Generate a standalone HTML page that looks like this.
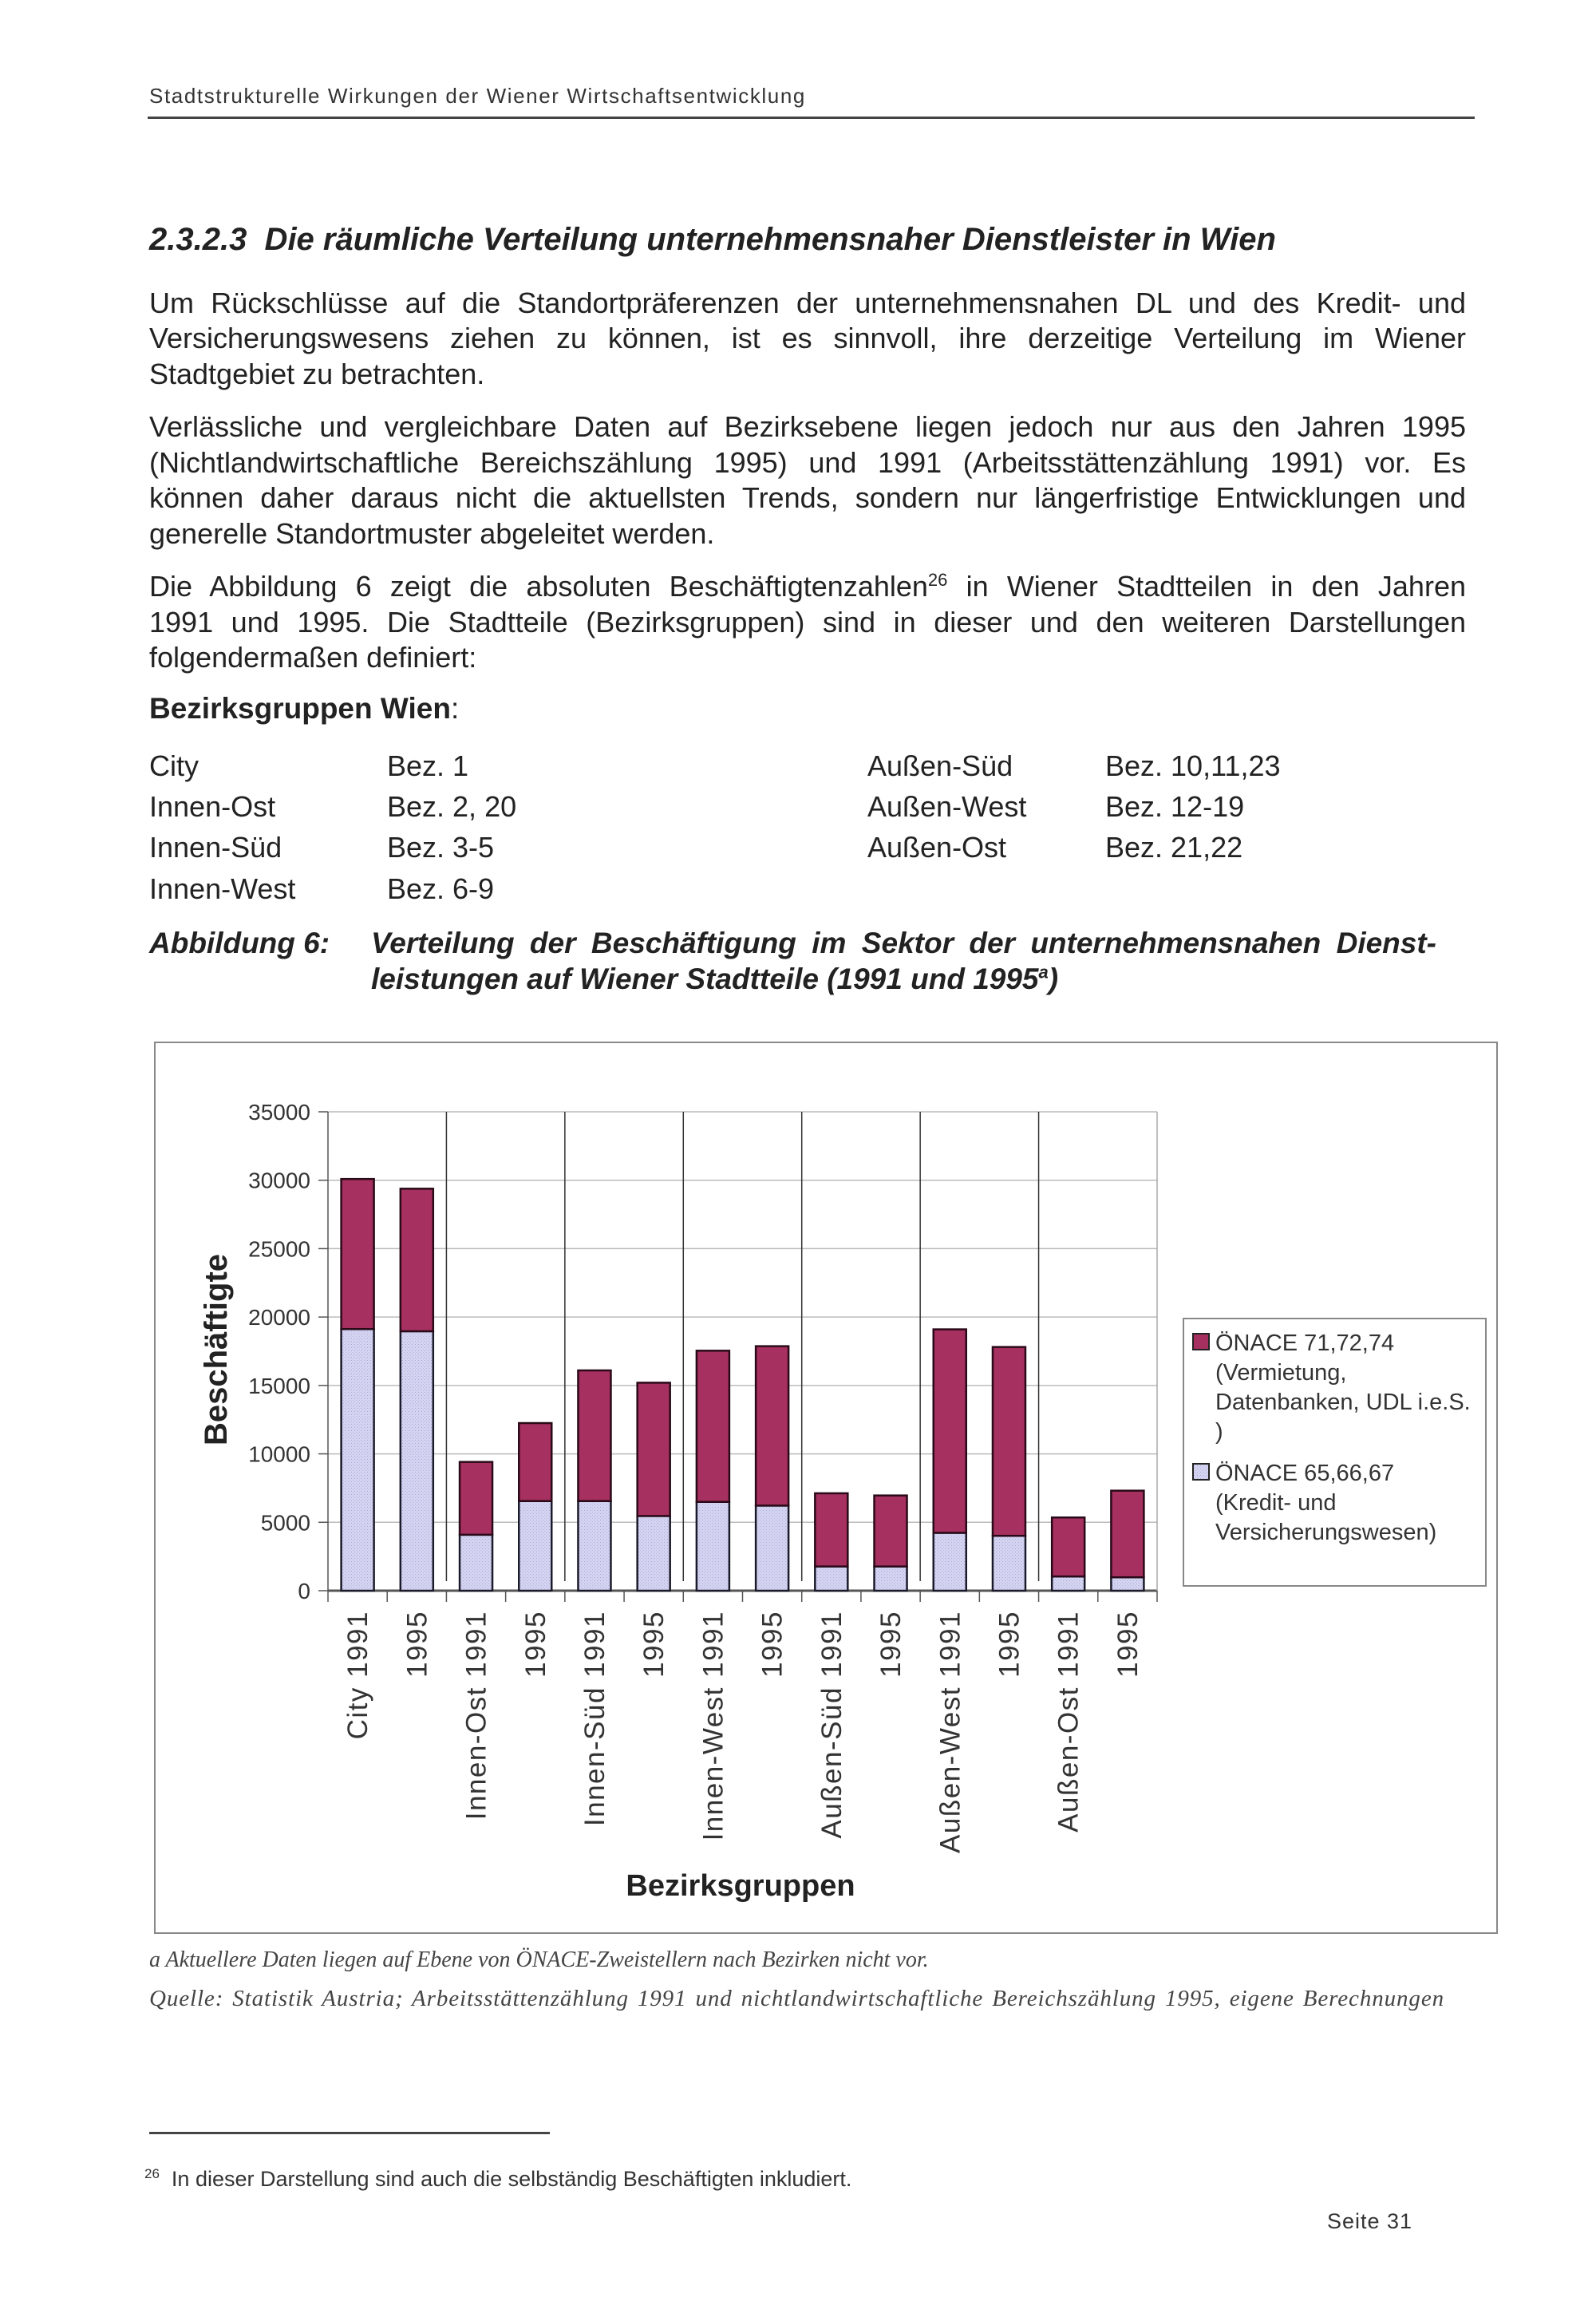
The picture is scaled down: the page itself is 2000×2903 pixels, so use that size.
<!DOCTYPE html>
<html><head><meta charset="utf-8">
<style>
html,body{margin:0;padding:0;background:#fff}
body{width:2000px;height:2903px;position:relative;overflow:hidden;font-family:"Liberation Sans",Arial,sans-serif;color:#222}
.a{position:absolute;white-space:nowrap}
.j{position:absolute;left:187px;width:1650px;text-align:justify;text-align-last:justify;font-size:36px;line-height:44px;white-space:nowrap}
.l{text-align-last:left}
.t{position:absolute;font-size:36px}
</style></head>
<body>
<div class="a" style="left:187px;top:105px;font-size:26px;letter-spacing:1.6px;color:#333">Stadtstrukturelle Wirkungen der Wiener Wirtschaftsentwicklung</div>
<div class="a" style="left:185px;top:146px;width:1663px;height:3px;background:#444"></div>
<div class="a" style="left:187px;top:278px;font-size:40px;font-weight:bold;font-style:italic">2.3.2.3&nbsp; Die räumliche Verteilung unternehmensnaher Dienstleister in Wien</div>

<div class="j" style="top:358px">Um Rückschlüsse auf die Standortpräferenzen der unternehmensnahen DL und des Kredit- und</div>
<div class="j" style="top:402px">Versicherungswesens ziehen zu können, ist es sinnvoll, ihre derzeitige Verteilung im Wiener</div>
<div class="j l" style="top:447px">Stadtgebiet zu betrachten.</div>

<div class="j" style="top:513px">Verlässliche und vergleichbare Daten auf Bezirksebene liegen jedoch nur aus den Jahren 1995</div>
<div class="j" style="top:558px">(Nichtlandwirtschaftliche Bereichszählung 1995) und 1991 (Arbeitsstättenzählung 1991) vor. Es</div>
<div class="j" style="top:602px">können daher daraus nicht die aktuellsten Trends, sondern nur längerfristige Entwicklungen und</div>
<div class="j l" style="top:647px">generelle Standortmuster abgeleitet werden.</div>

<div class="j" style="top:713px">Die Abbildung 6 zeigt die absoluten Beschäftigtenzahlen<sup style="font-size:22px;line-height:0">26</sup> in Wiener Stadtteilen in den Jahren</div>
<div class="j" style="top:758px">1991 und 1995. Die Stadtteile (Bezirksgruppen) sind in dieser und den weiteren Darstellungen</div>
<div class="j l" style="top:802px">folgendermaßen definiert:</div>

<div class="a" style="left:187px;top:867px;font-size:37px"><b>Bezirksgruppen Wien</b>:</div>

<div class="t" style="left:187px;top:939px">City</div>
<div class="t" style="left:485px;top:939px">Bez. 1</div>
<div class="t" style="left:187px;top:990px">Innen-Ost</div>
<div class="t" style="left:485px;top:990px">Bez. 2, 20</div>
<div class="t" style="left:187px;top:1041px">Innen-Süd</div>
<div class="t" style="left:485px;top:1041px">Bez. 3-5</div>
<div class="t" style="left:187px;top:1093px">Innen-West</div>
<div class="t" style="left:485px;top:1093px">Bez. 6-9</div>
<div class="t" style="left:1087px;top:939px">Außen-Süd</div>
<div class="t" style="left:1385px;top:939px">Bez. 10,11,23</div>
<div class="t" style="left:1087px;top:990px">Außen-West</div>
<div class="t" style="left:1385px;top:990px">Bez. 12-19</div>
<div class="t" style="left:1087px;top:1041px">Außen-Ost</div>
<div class="t" style="left:1385px;top:1041px">Bez. 21,22</div>

<div class="a" style="left:187px;top:1161px;font-size:37px;font-weight:bold;font-style:italic">Abbildung 6:</div>
<div class="a" style="left:465px;top:1161px;width:1335px;font-size:37px;font-weight:bold;font-style:italic;text-align:justify;text-align-last:justify">Verteilung der Beschäftigung im Sektor der unternehmensnahen Dienst-</div>
<div class="a" style="left:465px;top:1206px;font-size:37px;font-weight:bold;font-style:italic">leistungen auf Wiener Stadtteile (1991 und 1995<sup style="font-size:22px;line-height:0">a</sup>)</div>

<svg id="chart" style="position:absolute;left:0;top:0" width="2000" height="2903" xmlns="http://www.w3.org/2000/svg">
<defs>
<pattern id="dots" width="4" height="4" patternUnits="userSpaceOnUse"><rect width="4" height="4" fill="#d4d4f2"/><rect width="1" height="1" fill="#a8a8d0"/><rect x="2" y="2" width="1" height="1" fill="#b8b8dc"/></pattern>
</defs>
<rect x="194" y="1306" width="1682" height="1116" fill="none" stroke="#888" stroke-width="2"/>
<g id="g"></g>
</svg>

<div class="a" style="left:187px;top:2440px;font-family:'Liberation Serif',serif;font-style:italic;font-size:28px;color:#444">a Aktuellere Daten liegen auf Ebene von ÖNACE-Zweistellern nach Bezirken nicht vor.</div>
<div class="a" style="left:187px;top:2488px;width:1623px;font-family:'Liberation Serif',serif;font-style:italic;font-size:29px;letter-spacing:0.9px;color:#444;text-align:justify;text-align-last:justify">Quelle: Statistik Austria; Arbeitsstättenzählung 1991 und nichtlandwirtschaftliche Bereichszählung 1995, eigene Berechnungen</div>
<div class="a" style="left:187px;top:2671px;width:502px;height:3px;background:#444"></div>
<div class="a" style="left:181px;top:2714px;font-size:27px;color:#333"><sup style="font-size:17px">26</sup>&nbsp; In dieser Darstellung sind auch die selbständig Beschäftigten inkludiert.</div>
<div class="a" style="left:1663px;top:2768px;font-size:27px;letter-spacing:1px;color:#333">Seite 31</div>

<script>
const categories = ["City 1991","1995","Innen-Ost 1991","1995","Innen-Süd 1991","1995","Innen-West 1991","1995","Außen-Süd 1991","1995","Außen-West 1991","1995","Außen-Ost 1991","1995"];
const kreditValues = [19120,18960,4090,6550,6550,5460,6490,6220,1770,1770,4230,4010,1040,980];
const udlValues = [10970,10420,5320,5700,9550,9740,11050,11650,5350,5190,14870,13800,4310,6330];
const yTicks = [0,5000,10000,15000,20000,25000,30000,35000];
const yTickLabels = ["0","5000","10000","15000","20000","25000","30000","35000"];
const legendLabels = [["ÖNACE 71,72,74","(Vermietung,","Datenbanken, UDL i.e.S.",")"],["ÖNACE 65,66,67","(Kredit- und","Versicherungswesen)"]];

const NS="http://www.w3.org/2000/svg";
const g=document.getElementById('g');
const X0=411,X1=1450,Y0=1993,YT=1393,YMAX=35000;
const bw=(X1-X0)/categories.length;
function y(v){return Y0-(v/YMAX)*(Y0-YT);}
function xc(i){return X0+bw*(i+0.5);}
function el(t,a){const e=document.createElementNS(NS,t);for(const k in a)e.setAttribute(k,a[k]);g.appendChild(e);return e;}

yTicks.forEach((v,i)=>{
  const ln=el('line',{x1:X0,x2:X1,y1:y(v),y2:y(v),stroke:i==0?'#555':'#bbb','stroke-width':i==0?3:1.5});
  
  
  const tk=el('line',{x1:X0-12,x2:X0,y1:y(v),y2:y(v),stroke:'#555','stroke-width':1.5});
  
  
  const t=el('text',{x:389,y:y(v)+10,'text-anchor':'end','font-size':28,fill:'#333','font-family':'Liberation Sans, sans-serif'});
  t.textContent=yTickLabels[i];
  
  
});
const ya=el('line',{x1:X0,x2:X0,y1:YT,y2:Y0,stroke:'#555','stroke-width':1.5});


const rb=el('line',{x1:X1,x2:X1,y1:YT,y2:Y0,stroke:'#aaa','stroke-width':1.5});


for(let i=0;i<=categories.length;i++){
  const tk=el('line',{x1:X0+bw*i,x2:X0+bw*i,y1:Y0,y2:Y0+14,stroke:'#555','stroke-width':1.5});
  
  
  if(i>0&&i<categories.length&&i%2==0){
    const s=el('line',{x1:X0+bw*i,x2:X0+bw*i,y1:YT,y2:Y0-12,stroke:'#333','stroke-width':1.5});
    
    
  }
}
const BW=41;
categories.forEach((c,i)=>{
  const k=kreditValues[i],u=udlValues[i];
  const r1=el('rect',{x:xc(i)-BW/2,y:y(k),width:BW,height:Y0-y(k),fill:'url(#dots)',stroke:'#1a1a2a','stroke-width':2.5});
  
  
  const r2=el('rect',{x:xc(i)-BW/2,y:y(k+u),width:BW,height:y(k)-y(k+u),fill:'#a6305f',stroke:'#2a0a18','stroke-width':2.5});
  
  
  const t=el('text',{x:0,y:0,'text-anchor':'end','font-size':35,'letter-spacing':1.5,fill:'#333','font-family':'Liberation Sans, sans-serif',transform:`translate(${xc(i)+12},2018) rotate(-90)`});
  t.textContent=c;
  
  
});
const yt=el('text',{x:0,y:0,'text-anchor':'middle','font-size':40,'font-weight':'bold',fill:'#222','font-family':'Liberation Sans, sans-serif',transform:'translate(284,1691) rotate(-90)'});
yt.textContent='Beschäftigte';


const xt=el('text',{x:928,y:2375,'text-anchor':'middle','font-size':38,'font-weight':'bold',fill:'#222','font-family':'Liberation Sans, sans-serif'});
xt.textContent='Bezirksgruppen';


const lb=el('rect',{x:1483,y:1652,width:379,height:335,fill:'#fff',stroke:'#888','stroke-width':2});


const fills=['#a6305f','url(#dots)'];
const starts=[1692,1855];
legendLabels.forEach((lines,j)=>{
  const sq=el('rect',{x:1495,y:starts[j]-21,width:20,height:20,fill:fills[j],stroke:'#222','stroke-width':2});
  
  
  lines.forEach((s,n)=>{
    const t=el('text',{x:1523,y:starts[j]+n*37,'font-size':29,fill:'#333','font-family':'Liberation Sans, sans-serif'});
    t.textContent=s;
    
    
  });
});
</script>
</body></html>
